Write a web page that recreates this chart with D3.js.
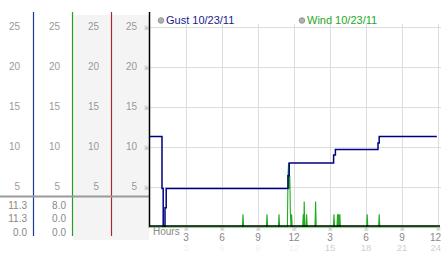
<!DOCTYPE html>
<html><head><meta charset="utf-8">
<script src="https://cdn.jsdelivr.net/npm/d3@7"></script>
<style>body{margin:0;background:#fff}svg{display:block}text{font-family:"Liberation Sans",Arial,sans-serif}</style>
</head><body><div id="c"></div>
<script>
const yTicks = [5, 10, 15, 20, 25];
const xTicks = [3, 6, 9, 12, 15, 18, 21, 24];
const xLabels12 = ["3", "6", "9", "12", "3", "6", "9", "12"];
const xLabels24 = ["3", "6", "9", "12", "15", "18", "21", "24"];
const seriesNames = ["Gust 10/23/11", "Wind 10/23/11"];
const gustHours  = [0, 1.0, 1.1, 1.25, 1.35, 11.5, 11.6, 15.3, 15.45, 19.0, 19.1, 23.9];
const gustValues = [11.3, 4.8, 0, 2.4, 4.8, 6.4, 8.0, 9.0, 9.7, 10.5, 11.3, 11.3];
const windHours  = [0, 7.7, 7.75, 7.8, 9.7, 9.75, 9.8, 10.7, 10.75, 10.8,
                    11.45, 11.5, 11.55, 11.6, 11.65, 11.7, 11.75, 11.8, 11.85,
                    12.72, 12.77, 12.82, 12.85, 12.9, 13.0, 13.05, 13.1,
                    13.75, 13.8, 13.85,
                    15.28, 15.33, 15.38, 15.58, 15.63, 15.68, 15.72, 15.77, 15.82, 15.87,
                    18.05, 18.1, 18.15, 19.05, 19.1, 19.15, 23.9];
const windValues = [0, 0, 1.6, 0, 0, 1.6, 0, 0, 1.6, 0,
                    0, 6.4, 8.0, 4.8, 6.4, 1.6, 0, 1.6, 0,
                    0, 1.6, 0, 3.2, 0, 0, 1.6, 0,
                    0, 3.2, 0,
                    0, 1.6, 0, 0, 1.6, 0, 1.6, 0, 1.6, 0,
                    0, 1.6, 0, 0, 1.6, 0, 0];
const summaryCols = [["11.3", "11.3", "0.0"], ["8.0", "0.0", "0.0"], [], []];

const W = 442, H = 253;
const svg = d3.select("#c").append("svg").attr("width", W).attr("height", H);
const x = d3.scaleLinear().domain([0, 24]).range([150, 438]);
const y = d3.scaleLinear().domain([0, 25]).range([227, 27]);

// left panel columns
const colRight = [20, 60, 99, 137];
const colLines = [{x: 33.5, c: "#1a3a9a"}, {x: 72.5, c: "#2a9a2a"}, {x: 111.5, c: "#a82a2a"}];
svg.append("rect").attr("x", 73).attr("y", 15).attr("width", 76).attr("height", 225).attr("fill", "#f4f4f4");
colLines.forEach(l => svg.append("line").attr("x1", l.x).attr("x2", l.x).attr("y1", 12).attr("y2", 236)
  .attr("stroke", l.c).attr("stroke-width", 1.2));
svg.append("line").attr("x1", 0).attr("x2", 149).attr("y1", 196.5).attr("y2", 196.5)
  .attr("stroke", "#9a9a9a").attr("stroke-width", 1.8);
colRight.forEach(cx => {
  yTicks.forEach(v => svg.append("text").attr("x", cx).attr("y", y(v) + 3).attr("text-anchor", "end")
    .attr("font-size", 10).attr("fill", "#999").text(v));
});
const rowY = [208.5, 222, 235.5];
summaryCols.forEach((col, i) => col.forEach((t, j) => svg.append("text")
  .attr("x", [27, 66, 105, 143][i]).attr("y", rowY[j]).attr("text-anchor", "end")
  .attr("font-size", 10).attr("fill", "#888").text(t)));

// grid
const g = svg.append("g");
g.selectAll(".hg").data(yTicks).join("line").attr("x1", 149).attr("x2", 441)
  .attr("y1", d => y(d) + 0.5).attr("y2", d => y(d) + 0.5).attr("stroke", "#dcdcdc");
g.selectAll(".vg").data(xTicks).join("line").attr("x1", d => x(d) + 0.5).attr("x2", d => x(d) + 0.5)
  .attr("y1", 24).attr("y2", 226).attr("stroke", "#dcdcdc");
g.selectAll(".ym").data(yTicks).join("text").attr("x", 146).attr("y", d => y(d) + 2.5)
  .attr("text-anchor", "middle").attr("font-size", 6).attr("fill", "#999").text("※");

// data
svg.append("path")
  .attr("d", d3.line().x(d => x(d[0])).y(d => y(d[1]))(windHours.map((h, i) => [h, windValues[i]])))
  .attr("fill", "none").attr("stroke", "#22aa22").attr("stroke-width", 1.1);
svg.append("path")
  .attr("d", d3.line().x(d => x(d[0])).y(d => y(d[1])).curve(d3.curveStepAfter)(gustHours.map((h, i) => [h, gustValues[i]])))
  .attr("fill", "none").attr("stroke", "#00007f").attr("stroke-width", 1.5);

// axes
svg.append("line").attr("x1", 149.5).attr("x2", 149.5).attr("y1", 12).attr("y2", 227).attr("stroke", "#000").attr("stroke-width", 1.5);
svg.append("line").attr("x1", 149).attr("x2", 440).attr("y1", 226).attr("y2", 226).attr("stroke", "#000").attr("stroke-width", 1.5);
svg.append("line").attr("x1", 148).attr("x2", 440).attr("y1", 227.6).attr("y2", 227.6).attr("stroke", "#8fd68f").attr("stroke-width", 1);

// x labels
svg.append("text").attr("x", 153).attr("y", 235).attr("font-size", 10).attr("fill", "#888").text("Hours");
xTicks.forEach((h, i) => {
  const last = i === xTicks.length - 1;
  const lx = last ? 441 : x(h), anchor = last ? "end" : "middle";
  svg.append("text").attr("x", x(h)).attr("y", 230.5).attr("text-anchor", "middle").attr("font-size", 5.5).attr("fill", "#999").text("※");
  svg.append("text").attr("x", lx).attr("y", 241).attr("text-anchor", anchor).attr("font-size", 10).attr("fill", "#888").text(xLabels12[i]);
  svg.append("text").attr("x", lx).attr("y", 251).attr("text-anchor", anchor).attr("font-size", 9.5)
    .attr("fill", i < 4 ? "#f2f2f2" : "#cfcfcf").text(xLabels24[i]);
});

// legend
const legendX = [161, 302], legendC = ["#1a1a8c", "#22aa22"];
seriesNames.forEach((n, i) => {
  svg.append("circle").attr("cx", legendX[i]).attr("cy", 20.5).attr("r", 2.8).attr("fill", "#b0b0b0").attr("stroke", "#888").attr("stroke-width", 0.8);
  svg.append("text").attr("x", legendX[i] + 5).attr("y", 24).attr("font-size", 11).attr("fill", legendC[i]).text(n);
});
</script></body></html>
